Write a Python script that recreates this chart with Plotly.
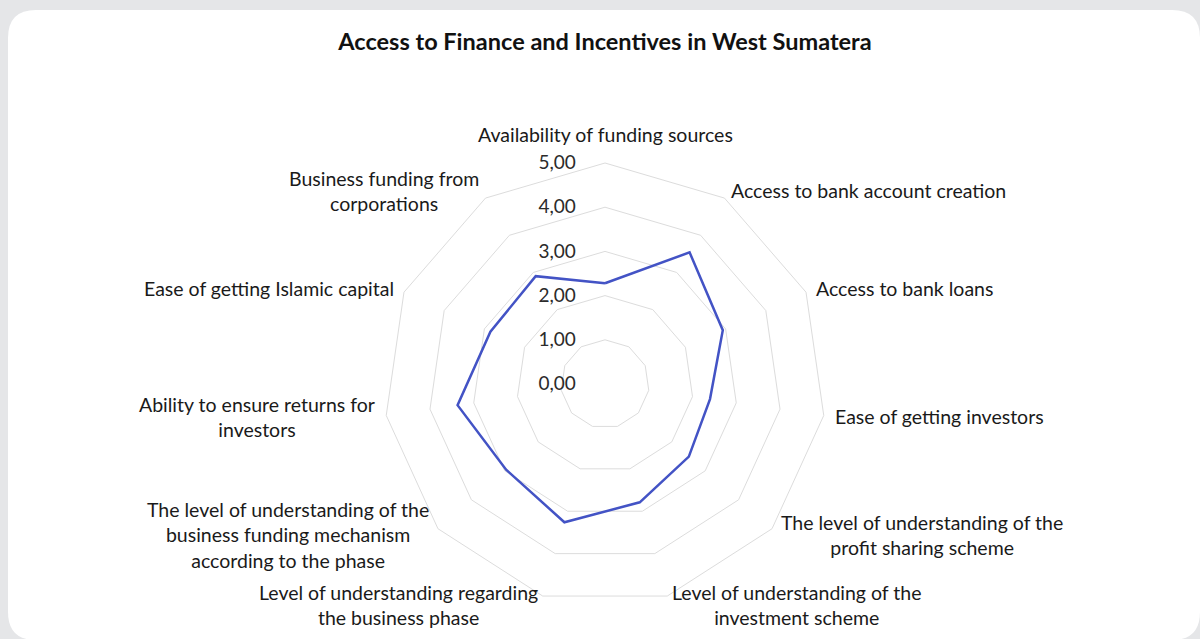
import math
import plotly.graph_objects as go

W, H = 1200, 639

# category labels (clockwise from the top) and the average score per item
categories = [
    "Availability of funding sources",
    "Access to bank account creation",
    "Access to bank loans",
    "Ease of getting investors",
    "The level of understanding of the<br>profit sharing scheme",
    "Level of understanding of the<br>investment scheme",
    "Level of understanding regarding<br>the business phase",
    "The level of understanding of the<br>business funding mechanism<br>according to the phase",
    "Ability to ensure returns for<br>investors",
    "Ease of getting Islamic capital",
    "Business funding from<br>corporations",
]
scores = [2.28, 3.54, 2.93, 2.40, 2.51, 2.79, 3.26, 2.96, 3.37, 2.85, 2.90]
radial_ticks = [0, 1, 2, 3, 4, 5]


def px_x(x):
    return x / W


def px_y(y):
    return 1 - y / H


def rounded_rect(x0, y0, x1, y1, r):
    # pixel coords -> paper coords path with rounded corners
    pts = [
        ("M", x0 + r, y0), ("L", x1 - r, y0), ("Q", x1, y0, x1, y0 + r),
        ("L", x1, y1 - r), ("Q", x1, y1, x1 - r, y1), ("L", x0 + r, y1),
        ("Q", x0, y1, x0, y1 - r), ("L", x0, y0 + r), ("Q", x0, y0, x0 + r, y0),
    ]
    out = []
    for p in pts:
        cmd, nums = p[0], p[1:]
        coords = []
        for i in range(0, len(nums), 2):
            coords.append(f"{px_x(nums[i]):.5f},{px_y(nums[i + 1]):.5f}")
        out.append(cmd + " ".join(coords))
    return " ".join(out) + " Z"


fig = go.Figure()

fig.add_trace(go.Scatterpolar(
    r=scores + scores[:1],
    theta=categories + categories[:1],
    mode="lines",
    line=dict(color="#4353c5", width=2.5),
    showlegend=False,
    hoverinfo="skip",
))

# polar centre / outer radius in pixels
cx, cy, rad = 605, 384, 221

# category labels sit just outside each outer vertex, Excel style (centred lines)
label_notes = []
n = len(categories)
for i, lab in enumerate(categories):
    ang = math.radians(360 * i / n)
    s, c = math.sin(ang), math.cos(ang)
    lx = cx + (rad + 9) * s
    ly = cy - (rad + 9) * c
    if abs(s) < 0.1:
        xanchor, yanchor = "center", "bottom"
        ly -= 6
    else:
        xanchor = "left" if s > 0 else "right"
        yanchor = "middle"
    label_notes.append(dict(
        text=lab, x=px_x(lx), y=px_y(ly), xref="paper", yref="paper",
        xanchor=xanchor, yanchor=yanchor, align="center", showarrow=False,
        font=dict(size=19.5, color="#1a1a1a"),
    ))

fig.update_layout(
    width=W,
    height=H,
    margin=dict(l=0, r=0, t=0, b=0),
    paper_bgcolor="#e5e6e8",
    separators=",.",
    font=dict(family="Lato, 'Open Sans', sans-serif", color="#1a1a1a"),
    title=dict(
        text="<b>Access to Finance and Incentives in West Sumatera</b>",
        x=605 / W, xanchor="center",
        y=px_y(42), yanchor="middle",
        font=dict(size=23.5, color="#111111"),
    ),
    shapes=[dict(
        type="path",
        path=rounded_rect(8, 10, 1200, 640, 28),
        xref="paper", yref="paper",
        fillcolor="white",
        line=dict(width=0),
        layer="below",
    )],
    annotations=label_notes,
    polar=dict(
        domain=dict(
            x=[px_x(cx - rad), px_x(cx + rad)],
            y=[px_y(cy + rad), px_y(cy - rad)],
        ),
        bgcolor="rgba(0,0,0,0)",
        gridshape="linear",
        radialaxis=dict(
            range=[0, 5],
            tickvals=radial_ticks,
            tickformat=".2f",
            angle=90,
            tickangle=90,
            side="counterclockwise",
            showline=False,
            ticks="outside",
            ticklen=22,
            tickcolor="rgba(0,0,0,0)",
            gridcolor="#dcdcdc",
            gridwidth=1,
            tickfont=dict(size=19, color="#2b2b2b"),
        ),
        angularaxis=dict(
            direction="clockwise",
            rotation=90,
            showgrid=False,
            showline=True,
            linecolor="#dcdcdc",
            linewidth=1,
            ticks="",
            showticklabels=False,
        ),
    ),
)

fig.write_html(
    "out.html",
    config={"displayModeBar": False},
    post_script="document.body.style.margin='0';"
                "document.body.style.background='#e5e6e8';",
)
